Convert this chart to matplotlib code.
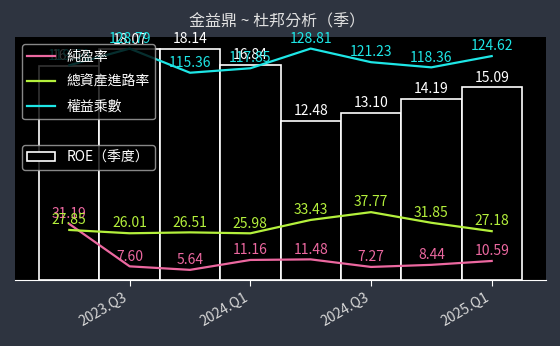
import matplotlib
matplotlib.use('Agg')
import matplotlib.pyplot as plt
import numpy as np

plt.rcParams['font.family'] = ['Noto Sans CJK TC', 'DejaVu Sans']

quarters = ['2023.Q2', '2023.Q3', '2023.Q4', '2024.Q1', '2024.Q2', '2024.Q3', '2024.Q4', '2025.Q1']
roe = [16.78, 18.07, 18.14, 16.84, 12.48, 13.10, 14.19, 15.09]
net_margin = [31.19, 7.60, 5.64, 11.16, 11.48, 7.27, 8.44, 10.59]
asset_turnover = [27.85, 26.01, 26.51, 25.98, 33.43, 37.77, 31.85, 27.18]
equity_multiplier = [119.50, 128.79, 115.36, 117.85, 128.81, 121.23, 118.36, 124.62]

BG = '#2e3440'
PINK = '#ec68a0'
GREEN = '#b4f03c'
CYAN = '#1ee6e6'

fig = plt.figure(figsize=(5.6, 3.46), dpi=100, facecolor=BG)
ax = fig.add_axes([15/560, 66/346, 531/560, 243/346])
ax.set_facecolor('black')
x = np.arange(len(quarters))

bars = ax.bar(x, roe, width=1.0, color='black', edgecolor='white', linewidth=1.2, label='ROE（季度）')
ax.set_xlim(-0.9, 7.9)
ax.set_ylim(0, max(roe) * 1.05)
for s in ['top', 'left', 'right']:
    ax.spines[s].set_visible(False)
ax.spines['bottom'].set_color('white')
ax.set_yticks([])
ax.set_xticks(x[1::2])
ax.set_xticklabels(quarters[1::2], rotation=30, ha='right', fontsize=10, color='#d8d8d8')
ax.tick_params(axis='x', color='white', length=4)
for xi, v in zip(x, roe):
    ax.annotate(f'{v:.2f}', (xi, v), xytext=(0, 2), textcoords='offset points',
                ha='center', va='bottom', color='white', fontsize=10)

ax2 = ax.twinx()
ax2.set_ylim(0, max(equity_multiplier) * 1.05)
ax2.set_yticks([])
for s in ax2.spines.values():
    s.set_visible(False)

series = [(net_margin, PINK, '純盈率'), (asset_turnover, GREEN, '總資產進路率'),
          (equity_multiplier, CYAN, '權益乘數')]
handles = []
for vals, col, name in series:
    h, = ax2.plot(x, vals, color=col, linewidth=1.6, label=name)
    handles.append(h)
    for xi, v in zip(x, vals):
        ax2.annotate(f'{v:.2f}', (xi, v), xytext=(0, 2), textcoords='offset points',
                     ha='center', va='bottom', color=col, fontsize=10)

leg1 = ax2.legend(handles=handles, loc='upper left', bbox_to_anchor=(0.013, 0.971),
                  borderaxespad=0, facecolor='black', edgecolor='#aaaaaa',
                  labelcolor='white', fontsize=10, framealpha=0.8, labelspacing=0.8)
ax2.add_artist(leg1)
leg2 = ax2.legend(handles=[bars], loc='upper left', bbox_to_anchor=(0.013, 0.30, 0.25, 0.256),
                  mode='expand', borderaxespad=0, facecolor='black', edgecolor='#aaaaaa',
                  labelcolor='white', fontsize=10, framealpha=0.8)

fig.text(0.495, 1 - 22/346, '金益鼎 ~ 杜邦分析（季）', ha='center', va='center',
         color='#e0e0e0', fontsize=11.5)

fig.savefig('out.png', dpi=100, facecolor=BG)
